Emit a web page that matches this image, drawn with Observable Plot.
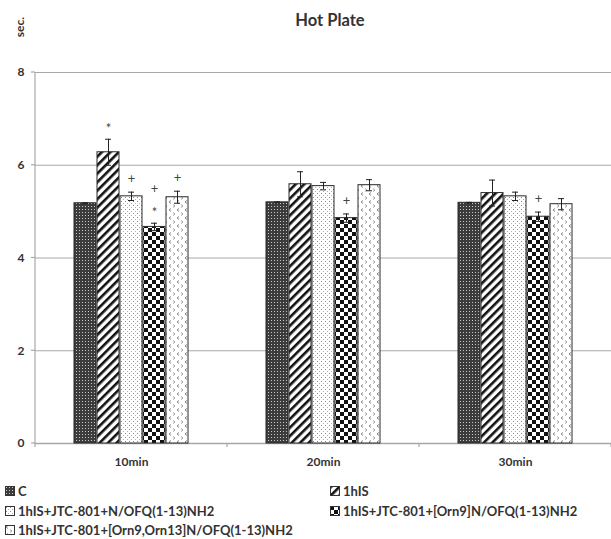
<!DOCTYPE html>
<html>
<head>
<meta charset="utf-8">
<script src="https://cdn.jsdelivr.net/npm/d3@7"></script>
<script src="https://cdn.jsdelivr.net/npm/@observablehq/plot@0.6"></script>
<style>
  html, body { margin: 0; padding: 0; background: #fff; overflow: hidden; }
  #wrap { position: relative; width: 611px; height: 539px; font-family: Lato, "Liberation Sans", sans-serif; color: #333; }
  #title { position: absolute; left: 330px; top: 10px; transform: translateX(-50%); font-size: 16.5px; font-weight: bold; white-space: nowrap; }
  #ylab { position: absolute; left: 19px; top: 27px; transform: translate(-50%, -50%) rotate(-90deg); font-size: 12px; font-weight: bold; }
  #chart { position: absolute; left: 0; top: 40px; }
  .leg { position: absolute; font-size: 13px; line-height: 14px; height: 14px; font-weight: bold; white-space: nowrap; display: flex; align-items: center; }
  .leg svg { margin-right: 3px; }
</style>
</head>
<body>
<svg width="0" height="0" style="position:absolute">
  <defs>
    <pattern id="pat-c" patternUnits="userSpaceOnUse" width="3" height="3">
      <rect width="3" height="3" fill="#3c3c3c"/>
      <rect x="1" y="1" width="1" height="1" fill="#c8c8c8"/>
    </pattern>
    <pattern id="pat-his" patternUnits="userSpaceOnUse" width="6" height="6" patternTransform="rotate(45)">
      <rect width="6" height="6" fill="#fff"/>
      <rect width="2.6" height="6" fill="#111"/>
    </pattern>
    <pattern id="pat-nofq" patternUnits="userSpaceOnUse" width="4" height="4">
      <rect width="4" height="4" fill="#fff"/>
      <rect x="1" y="1" width="1" height="1" fill="#8a8a8a"/>
      <rect x="3" y="3" width="1" height="1" fill="#b0b0b0"/>
    </pattern>
    <pattern id="pat-orn9" patternUnits="userSpaceOnUse" width="8" height="8">
      <rect width="8" height="8" fill="#fff"/>
      <rect width="4" height="4" fill="#111"/>
      <rect x="4" y="4" width="4" height="4" fill="#111"/>
    </pattern>
    <pattern id="pat-orn913" patternUnits="userSpaceOnUse" width="8" height="8">
      <rect width="8" height="8" fill="#fff"/>
      <path d="M3,0.5 L1,2 L3,3.5" fill="none" stroke="#777" stroke-width="0.9"/>
      <path d="M5,4.5 L7,6 L5,7.5" fill="none" stroke="#999" stroke-width="0.9"/>
    </pattern>
  </defs>
</svg>

<div id="wrap">
  <div id="title">Hot Plate</div>
  <div id="ylab">sec.</div>
  <div id="chart"></div>
</div>

<script>
// Time points on the x axis
const times = ["10min", "20min", "30min"];

// Treatment groups (legend order)
const groups = [
  "C",
  "1hIS",
  "1hIS+JTC-801+N/OFQ(1-13)NH2",
  "1hIS+JTC-801+[Orn9]N/OFQ(1-13)NH2",
  "1hIS+JTC-801+[Orn9,Orn13]N/OFQ(1-13)NH2"
];

// Mean latency (sec.) per group, one value per time point
const meanC      = [5.18, 5.20, 5.19];
const mean1hIS   = [6.28, 5.59, 5.40];
const meanNOFQ   = [5.33, 5.55, 5.33];
const meanOrn9   = [4.67, 4.86, 4.89];
const meanOrn913 = [5.31, 5.57, 5.16];

// Standard error per group, one value per time point
const errC      = [0.01, 0.01, 0.01];
const err1hIS   = [0.28, 0.27, 0.28];
const errNOFQ   = [0.09, 0.08, 0.09];
const errOrn9   = [0.08, 0.09, 0.10];
const errOrn913 = [0.13, 0.12, 0.12];

// Significance markers: [time, group index, symbol, stacking level]
const marks = [
  ["10min", 1, "*", 0],
  ["10min", 2, "+", 0],
  ["10min", 3, "*", 0],
  ["10min", 3, "+", 1],
  ["10min", 4, "+", 0],
  ["20min", 3, "+", 0],
  ["30min", 3, "+", 0]
];

const yTicks = [0, 2, 4, 6, 8];
const patterns = ["url(#pat-c)", "url(#pat-his)", "url(#pat-nofq)", "url(#pat-orn9)", "url(#pat-orn913)"];

const means = [meanC, mean1hIS, meanNOFQ, meanOrn9, meanOrn913];
const errs = [errC, err1hIS, errNOFQ, errOrn9, errOrn913];

const rows = [];
groups.forEach((g, gi) => times.forEach((t, ti) => {
  rows.push({time: t, group: g, value: means[gi][ti], err: errs[gi][ti]});
}));

const notes = marks.map(([t, gi, sym, level]) => {
  const r = rows.find(d => d.time === t && d.group === groups[gi]);
  return {time: t, group: r.group, top: r.value + r.err, sym, level};
});

const gridColor = "#a8a8a8";
const noteStyle = {fx: "time", x: "group", y: "top", text: "sym", fill: "#444", fontWeight: "normal"};

const chart = Plot.plot({
  width: 611,
  height: 438,
  marginTop: 32,
  marginBottom: 35,
  marginLeft: 35,
  marginRight: 0,
  style: {fontFamily: "Lato, 'Liberation Sans', sans-serif", fontSize: "12px", fontWeight: "bold", color: "#333", background: "white"},
  fx: {domain: times, padding: 0, axis: "bottom", tickSize: 0, tickPadding: 14, label: null},
  x: {domain: groups, axis: null, paddingInner: 0.06, paddingOuter: 1.54},
  y: {domain: [0, 8], ticks: yTicks, tickSize: 0, tickPadding: 11, label: null},
  color: {type: "ordinal", domain: groups, range: patterns},
  marks: [
    Plot.ruleY(yTicks.filter(v => v > 0), {stroke: gridColor, strokeWidth: 1.2}),
    Plot.ruleY([0], {stroke: gridColor, strokeWidth: 1.4}),
    Plot.barY(rows, {fx: "time", x: "group", y: "value", fill: "group", stroke: "#2a2a2a", strokeWidth: 1}),
    Plot.ruleX(rows, {fx: "time", x: "group", y1: d => d.value - d.err, y2: d => d.value + d.err, stroke: "#222", strokeWidth: 1}),
    Plot.tickY(rows, {fx: "time", x: "group", y: d => d.value + d.err, stroke: "#222", strokeWidth: 1, insetLeft: 8, insetRight: 8}),
    Plot.tickY(rows, {fx: "time", x: "group", y: d => d.value - d.err, stroke: "#222", strokeWidth: 1, insetLeft: 8, insetRight: 8}),
    Plot.text(notes.filter(d => d.sym === "*"), {...noteStyle, dy: -10, fontSize: 13}),
    Plot.text(notes.filter(d => d.sym === "+" && d.level === 0), {...noteStyle, dy: -13, fontSize: 13}),
    Plot.text(notes.filter(d => d.sym === "+" && d.level === 1), {...noteStyle, dy: -34, fontSize: 13})
  ]
});

document.getElementById("chart").appendChild(chart);

// Axis line, y ticks and category boundary ticks, placed with the chart's scales
const svg = d3.select(chart);
const ys = chart.scale("y");
const fxs = chart.scale("fx");
const x0 = fxs.apply(times[0]);
const bounds = times.map(t => fxs.apply(t)).concat([fxs.apply(times[times.length - 1]) + fxs.bandwidth]);
const g = svg.append("g").attr("stroke", gridColor).attr("stroke-width", 1.2);
g.append("line").attr("x1", x0).attr("x2", x0).attr("y1", ys.apply(0)).attr("y2", ys.apply(8));
yTicks.forEach(v => g.append("line").attr("x1", x0 - 4).attr("x2", x0).attr("y1", ys.apply(v)).attr("y2", ys.apply(v)));
bounds.forEach(b => g.append("line").attr("x1", b).attr("x2", b).attr("y1", ys.apply(0)).attr("y2", ys.apply(0) + 4));

// Legend
const wrap = document.getElementById("wrap");
const legendPos = [[5, 491], [330, 491], [5, 511], [330, 511], [5, 530]];
groups.forEach((name, i) => {
  const item = document.createElement("div");
  item.className = "leg";
  item.style.left = legendPos[i][0] + "px";
  item.style.top = (legendPos[i][1] - 7) + "px";
  item.innerHTML = `<svg width="10" height="10"><rect x="0.5" y="0.5" width="9" height="9" fill="${patterns[i]}" stroke="#333" stroke-width="1"/></svg>`;
  const span = document.createElement("span");
  span.textContent = name;
  item.appendChild(span);
  wrap.appendChild(item);
});
</script>
</body>
</html>
